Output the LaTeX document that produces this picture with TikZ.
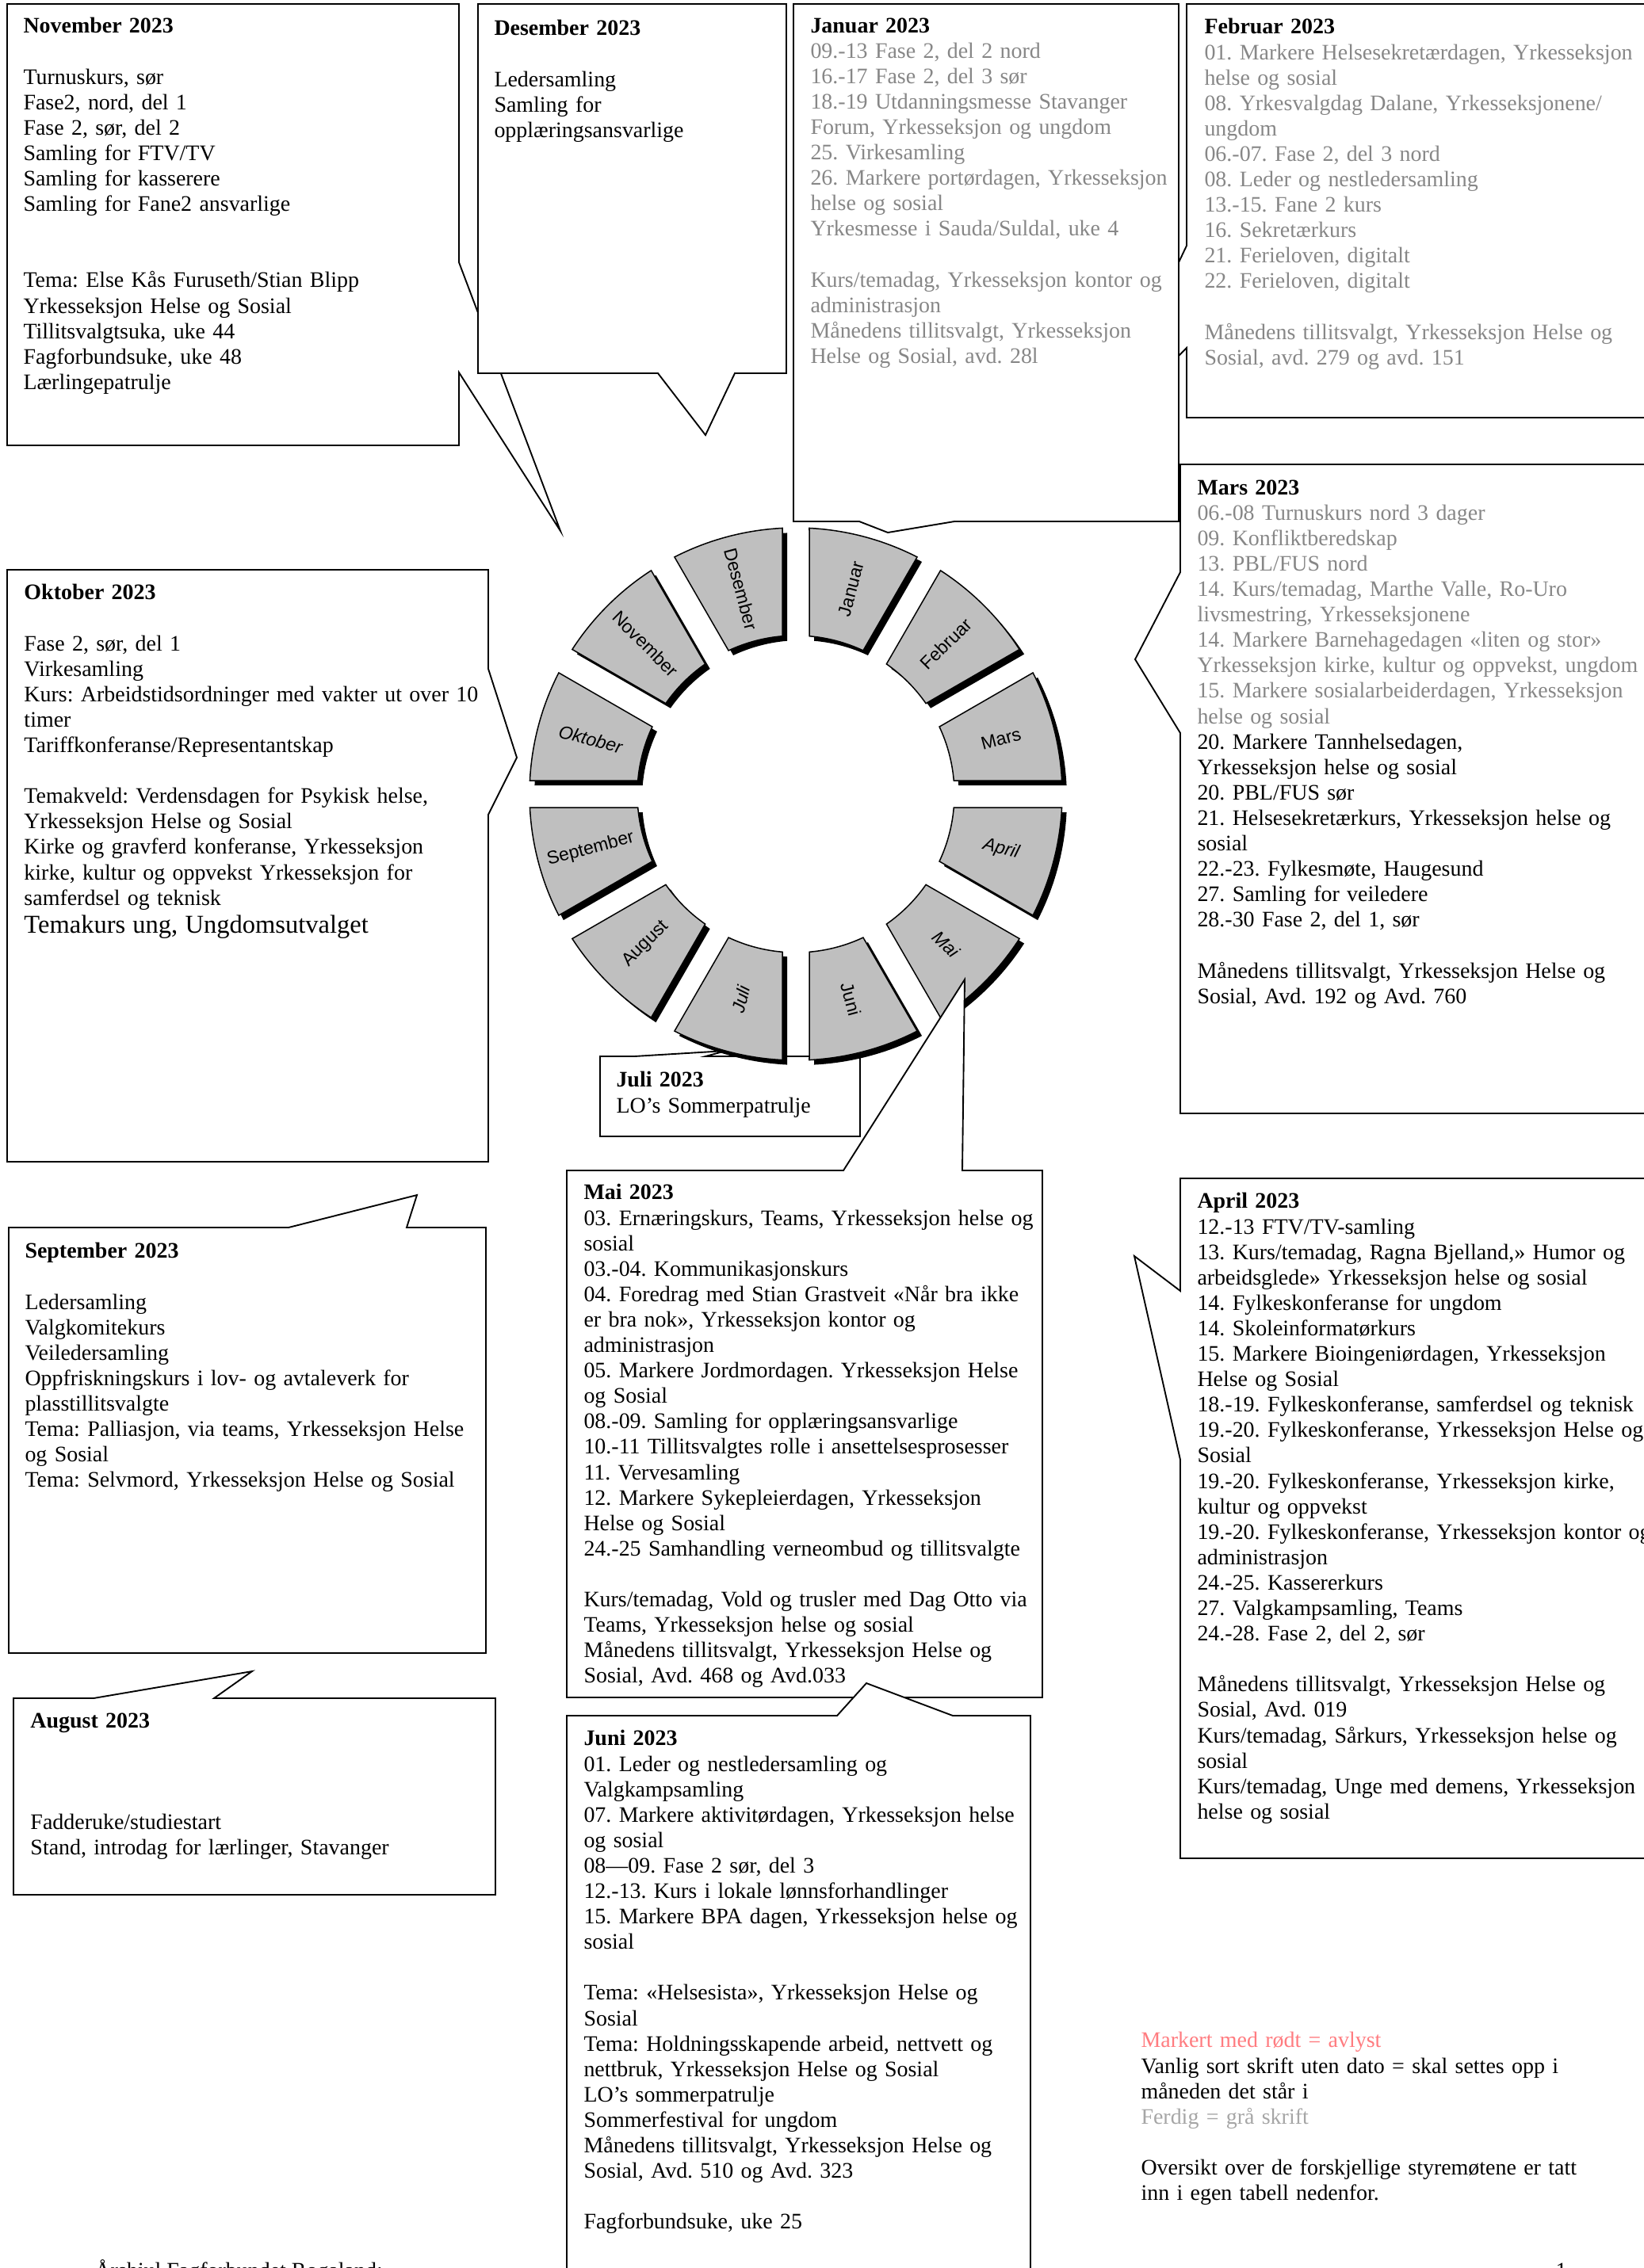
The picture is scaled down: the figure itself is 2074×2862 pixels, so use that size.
\documentclass[tikz,border=0pt]{standalone}
\usepackage{fontspec}
\setmainfont{Liberation Serif}
\newfontfamily\wheelfont{Liberation Sans}
\usepackage{tikz}
\frenchspacing
\definecolor{donegrey}{gray}{0.53}
\definecolor{legendgrey}{gray}{0.65}
\definecolor{cancelred}{RGB}{255,124,128}
\definecolor{segfill}{gray}{0.75}
\newlength{\bls}
\setlength{\bls}{12.84pt}
\tikzset{
  callout/.style={draw=black, fill=white, line width=0.75pt, line join=miter},
  boxtext/.style={anchor=north west, inner sep=0pt, text width=300pt, align=left,
    font=\fontsize{11.18}{12.84}\selectfont},
  monthseg/.style={draw=black, fill=segfill, line width=0.6pt},
  monthshadow/.style={fill=black},
  monthlabel/.style={inner sep=0pt, font=\wheelfont\fontsize{9.2}{11}\selectfont},
}

\begin{document}
\begin{tikzpicture}[x=0.4pt, y=0.4pt]
  \useasboundingbox (0,0) rectangle (2074,-2862);
  \fill[white] (0,0) rectangle (2074,-2862);

  % November
  \draw[callout] (9,-5) -- (579,-5) -- (579,-331) -- (707,-670) -- (579,-470) -- (579,-562) -- (9,-562) -- cycle;
  \node[boxtext] (novtext) at (29,-22) {\textbf{November 2023}\\[\bls]
    Turnuskurs, sør\\
    Fase2, nord, del 1\\
    Fase 2, sør, del 2\\
    Samling for FTV/TV\\
    Samling for kasserere\\
    Samling for Fane2 ansvarlige\\[2\bls]
    Tema: Else Kås Furuseth/Stian Blipp\\
    Yrkesseksjon Helse og Sosial\\
    Tillitsvalgtsuka, uke 44\\
    Fagforbundsuke, uke 48\\
    Lærlingepatrulje};

  % Desember
  \draw[callout] (603,-5) -- (992,-5) -- (992,-471) -- (927,-471) -- (890,-549) -- (830,-471) -- (603,-471) -- cycle;
  \node[boxtext] (destext) at (623,-25) {\textbf{Desember 2023}\\[\bls]
    Ledersamling\\
    Samling for\\
    opplæringsansvarlige};

  % Februar
  \draw[callout] (1497,-5) -- (2100,-5) -- (2100,-527) -- (1497,-527) -- (1497,-439) -- (1380,-556) -- (1497,-310) -- cycle;
  \node[boxtext] (febtext) at (1519,-23) {\textbf{Februar 2023}\\ \color{donegrey}
    01. Markere Helsesekretærdagen, Yrkesseksjon\\
    helse og sosial\\
    08. Yrkesvalgdag Dalane, Yrkesseksjonene/\\
    ungdom\\
    06.-07. Fase 2, del 3 nord\\
    08. Leder og nestledersamling\\
    13.-15. Fane 2 kurs\\
    16. Sekretærkurs\\
    21. Ferieloven, digitalt\\
    22. Ferieloven, digitalt\\[\bls]
    Månedens tillitsvalgt, Yrkesseksjon Helse og\\
    Sosial, avd. 279 og avd. 151};

  % Januar
  \draw[callout] (1001,-5) -- (1487,-5) -- (1487,-658) -- (1204,-658) -- (1120,-672) -- (1084,-658) -- (1001,-658) -- cycle;
  \node[boxtext] (jantext) at (1022,-22) {\textbf{Januar 2023}\\ \color{donegrey}
    09.-13 Fase 2, del 2 nord\\
    16.-17 Fase 2, del 3 sør\\
    18.-19 Utdanningsmesse Stavanger\\
    Forum, Yrkesseksjon og ungdom\\
    25. Virkesamling\\
    26. Markere portørdagen, Yrkesseksjon\\
    helse og sosial\\
    Yrkesmesse i Sauda/Suldal, uke 4\\[\bls]
    Kurs/temadag, Yrkesseksjon kontor og\\
    administrasjon\\
    Månedens tillitsvalgt, Yrkesseksjon\\
    Helse og Sosial, avd. 28l};

  % Mars
  \draw[callout] (1489,-586) -- (2100,-586) -- (2100,-1405) -- (1489,-1405) -- (1489,-925) -- (1432,-832) -- (1489,-722) -- cycle;
  \node[boxtext] (marstext) at (1510,-605) {\textbf{Mars 2023}\\ \color{donegrey}
    06.-08 Turnuskurs nord 3 dager\\
    09. Konfliktberedskap\\
    13. PBL/FUS nord\\
    14. Kurs/temadag, Marthe Valle, Ro-Uro\\
    livsmestring, Yrkesseksjonene\\
    14. Markere Barnehagedagen «liten og stor»\\
    Yrkesseksjon kirke, kultur og oppvekst, ungdom\\
    15. Markere sosialarbeiderdagen, Yrkesseksjon\\
    helse og sosial\\ \color{black}
    20. Markere Tannhelsedagen,\\
    Yrkesseksjon helse og sosial\\
    20. PBL/FUS sør\\
    21. Helsesekretærkurs, Yrkesseksjon helse og\\
    sosial\\
    22.-23. Fylkesmøte, Haugesund\\
    27. Samling for veiledere\\
    28.-30 Fase 2, del 1, sør\\[\bls]
    Månedens tillitsvalgt, Yrkesseksjon Helse og\\
    Sosial, Avd. 192 og Avd. 760};

  % Oktober
  \draw[callout] (9,-719) -- (616,-719) -- (616,-844) -- (652,-956) -- (616,-1028) -- (616,-1466) -- (9,-1466) -- cycle;
  \node[boxtext] (okttext) at (30,-737) {\textbf{Oktober 2023}\\[\bls]
    Fase 2, sør, del 1\\
    Virkesamling\\
    Kurs: Arbeidstidsordninger med vakter ut over 10\\
    timer\\
    Tariffkonferanse/Representantskap\\[\bls]
    Temakveld: Verdensdagen for Psykisk helse,\\
    Yrkesseksjon Helse og Sosial\\
    Kirke og gravferd konferanse, Yrkesseksjon\\
    kirke, kultur og oppvekst Yrkesseksjon for\\
    samferdsel og teknisk\\[1.2pt]
    {\fontsize{13}{15}\selectfont Temakurs ung, Ungdomsutvalget}};

  % Juli
  \draw[callout] (757,-1333) -- (800,-1333) -- (916,-1326) -- (890,-1333) -- (1085,-1333) -- (1085,-1434) -- (757,-1434) -- cycle;
  \node[boxtext] (julitext) at (777,-1352) {\textbf{Juli 2023}\\
    LO’s Sommerpatrulje};

  % Month wheel
  \def\rout{336}
  \def\rin{200}
  \def\gapw{17}
  \pgfmathsetmacro{\aout}{asin(\gapw/\rout)}
  \pgfmathsetmacro{\ain}{asin(\gapw/\rin)}
  \begin{scope}[shift={(1004,-1002)}]
    \foreach \mon/\ang/\rot/\shp in {Mars/15/15/n, Februar/45/45/n, Januar/75/75/n,
        Desember/105/-75/n, November/135/-45/n, Oktober/165/-15/it,
        September/195/15/n, August/225/45/n, Juli/255/75/it,
        Juni/285/-75/n, Mai/315/-45/it, April/345/-15/it} {
      \fill[monthshadow, shift={(6,-6)}] ({\ang-15+\aout}:\rout)
        arc[start angle={\ang-15+\aout}, end angle={\ang+15-\aout}, radius=\rout]
        -- ({\ang+15-\ain}:\rin)
        arc[start angle={\ang+15-\ain}, end angle={\ang-15+\ain}, radius=\rin] -- cycle;
      \filldraw[monthseg] ({\ang-15+\aout}:\rout)
        arc[start angle={\ang-15+\aout}, end angle={\ang+15-\aout}, radius=\rout]
        -- ({\ang+15-\ain}:\rin)
        arc[start angle={\ang+15-\ain}, end angle={\ang-15+\ain}, radius=\rin] -- cycle;
      \node[monthlabel, rotate=\rot] (lbl\mon) at (\ang:268) {\fontshape{\shp}\selectfont\mon};
    }
  \end{scope}

  % Mai
  \draw[callout] (715,-1477) -- (1064,-1477) -- (1217,-1236) -- (1214,-1477) -- (1315,-1477) -- (1315,-2142) -- (715,-2142) -- cycle;
  \node[boxtext] (maitext) at (736,-1494) {\textbf{Mai 2023}\\
    03. Ernæringskurs, Teams, Yrkesseksjon helse og\\
    sosial\\
    03.-04. Kommunikasjonskurs\\
    04. Foredrag med Stian Grastveit «Når bra ikke\\
    er bra nok», Yrkesseksjon kontor og\\
    administrasjon\\
    05. Markere Jordmordagen. Yrkesseksjon Helse\\
    og Sosial\\
    08.-09. Samling for opplæringsansvarlige\\
    10.-11 Tillitsvalgtes rolle i ansettelsesprosesser\\
    11. Vervesamling\\
    12. Markere Sykepleierdagen, Yrkesseksjon\\
    Helse og Sosial\\
    24.-25 Samhandling verneombud og tillitsvalgte\\[\bls]
    Kurs/temadag, Vold og trusler med Dag Otto via\\
    Teams, Yrkesseksjon helse og sosial\\
    Månedens tillitsvalgt, Yrkesseksjon Helse og\\
    Sosial, Avd. 468 og Avd.033};

  % Juni
  \draw[callout] (715,-2165) -- (1056,-2165) -- (1093,-2124) -- (1202,-2165) -- (1300,-2165) -- (1300,-2900) -- (715,-2900) -- cycle;
  \node[boxtext] (junitext) at (736,-2183) {\textbf{Juni 2023}\\
    01. Leder og nestledersamling og\\
    Valgkampsamling\\
    07. Markere aktivitørdagen, Yrkesseksjon helse\\
    og sosial\\
    08—09. Fase 2 sør, del 3\\
    12.-13. Kurs i lokale lønnsforhandlinger\\
    15. Markere BPA dagen, Yrkesseksjon helse og\\
    sosial\\[\bls]
    Tema: «Helsesista», Yrkesseksjon Helse og\\
    Sosial\\
    Tema: Holdningsskapende arbeid, nettvett og\\
    nettbruk, Yrkesseksjon Helse og Sosial\\
    LO’s sommerpatrulje\\
    Sommerfestival for ungdom\\
    Månedens tillitsvalgt, Yrkesseksjon Helse og\\
    Sosial, Avd. 510 og Avd. 323\\[\bls]
    Fagforbundsuke, uke 25};

  % April
  \draw[callout] (1489,-1487) -- (2100,-1487) -- (2100,-2345) -- (1489,-2345) -- (1489,-1842) -- (1431,-1585) -- (1489,-1629) -- cycle;
  \node[boxtext] (apriltext) at (1510,-1505) {\textbf{April 2023}\\
    12.-13 FTV/TV-samling\\
    13. Kurs/temadag, Ragna Bjelland,» Humor og\\
    arbeidsglede» Yrkesseksjon helse og sosial\\
    14. Fylkeskonferanse for ungdom\\
    14. Skoleinformatørkurs\\
    15. Markere Bioingeniørdagen, Yrkesseksjon\\
    Helse og Sosial\\
    18.-19. Fylkeskonferanse, samferdsel og teknisk\\
    19.-20. Fylkeskonferanse, Yrkesseksjon Helse og\\
    Sosial\\
    19.-20. Fylkeskonferanse, Yrkesseksjon kirke,\\
    kultur og oppvekst\\
    19.-20. Fylkeskonferanse, Yrkesseksjon kontor og\\
    administrasjon\\
    24.-25. Kassererkurs\\
    27. Valgkampsamling, Teams\\
    24.-28. Fase 2, del 2, sør\\[\bls]
    Månedens tillitsvalgt, Yrkesseksjon Helse og\\
    Sosial, Avd. 019\\
    Kurs/temadag, Sårkurs, Yrkesseksjon helse og\\
    sosial\\
    Kurs/temadag, Unge med demens, Yrkesseksjon\\
    helse og sosial};

  % September
  \draw[callout] (11,-1549) -- (364,-1549) -- (526,-1508) -- (513,-1549) -- (613,-1549) -- (613,-2086) -- (11,-2086) -- cycle;
  \node[boxtext] (septtext) at (31,-1568) {\textbf{September 2023}\\[\bls]
    Ledersamling\\
    Valgkomitekurs\\
    Veiledersamling\\
    Oppfriskningskurs i lov- og avtaleverk for\\
    plasstillitsvalgte\\
    Tema: Palliasjon, via teams, Yrkesseksjon Helse\\
    og Sosial\\
    Tema: Selvmord, Yrkesseksjon Helse og Sosial};

  % August
  \draw[callout] (17,-2143) -- (118,-2143) -- (318,-2109) -- (270,-2143) -- (625,-2143) -- (625,-2391) -- (17,-2391) -- cycle;
  \node[boxtext] (augtext) at (38,-2161) {\textbf{August 2023}\\[3\bls]
    Fadderuke/studiestart\\
    Stand, introdag for lærlinger, Stavanger};

  % Legend
  \node[boxtext] (legend) at (1439,-2564) {{\color{cancelred}Markert med rødt = avlyst}\\
    Vanlig sort skrift uten dato = skal settes opp i\\
    måneden det står i\\
    {\color{legendgrey}Ferdig = grå skrift}\\[\bls]
    Oversikt over de forskjellige styremøtene er tatt\\
    inn i egen tabell nedenfor.};

  % Footer
  \node[anchor=base west, inner sep=0pt, font=\fontsize{11.18}{12.84}\selectfont] (footer) at (119,-2874) {Årshjul Fagforbundet Rogaland:};
  \node[anchor=base west, inner sep=0pt, font=\fontsize{11.18}{12.84}\selectfont] (pagenum) at (1962,-2874) {1};
\end{tikzpicture}
\end{document}
